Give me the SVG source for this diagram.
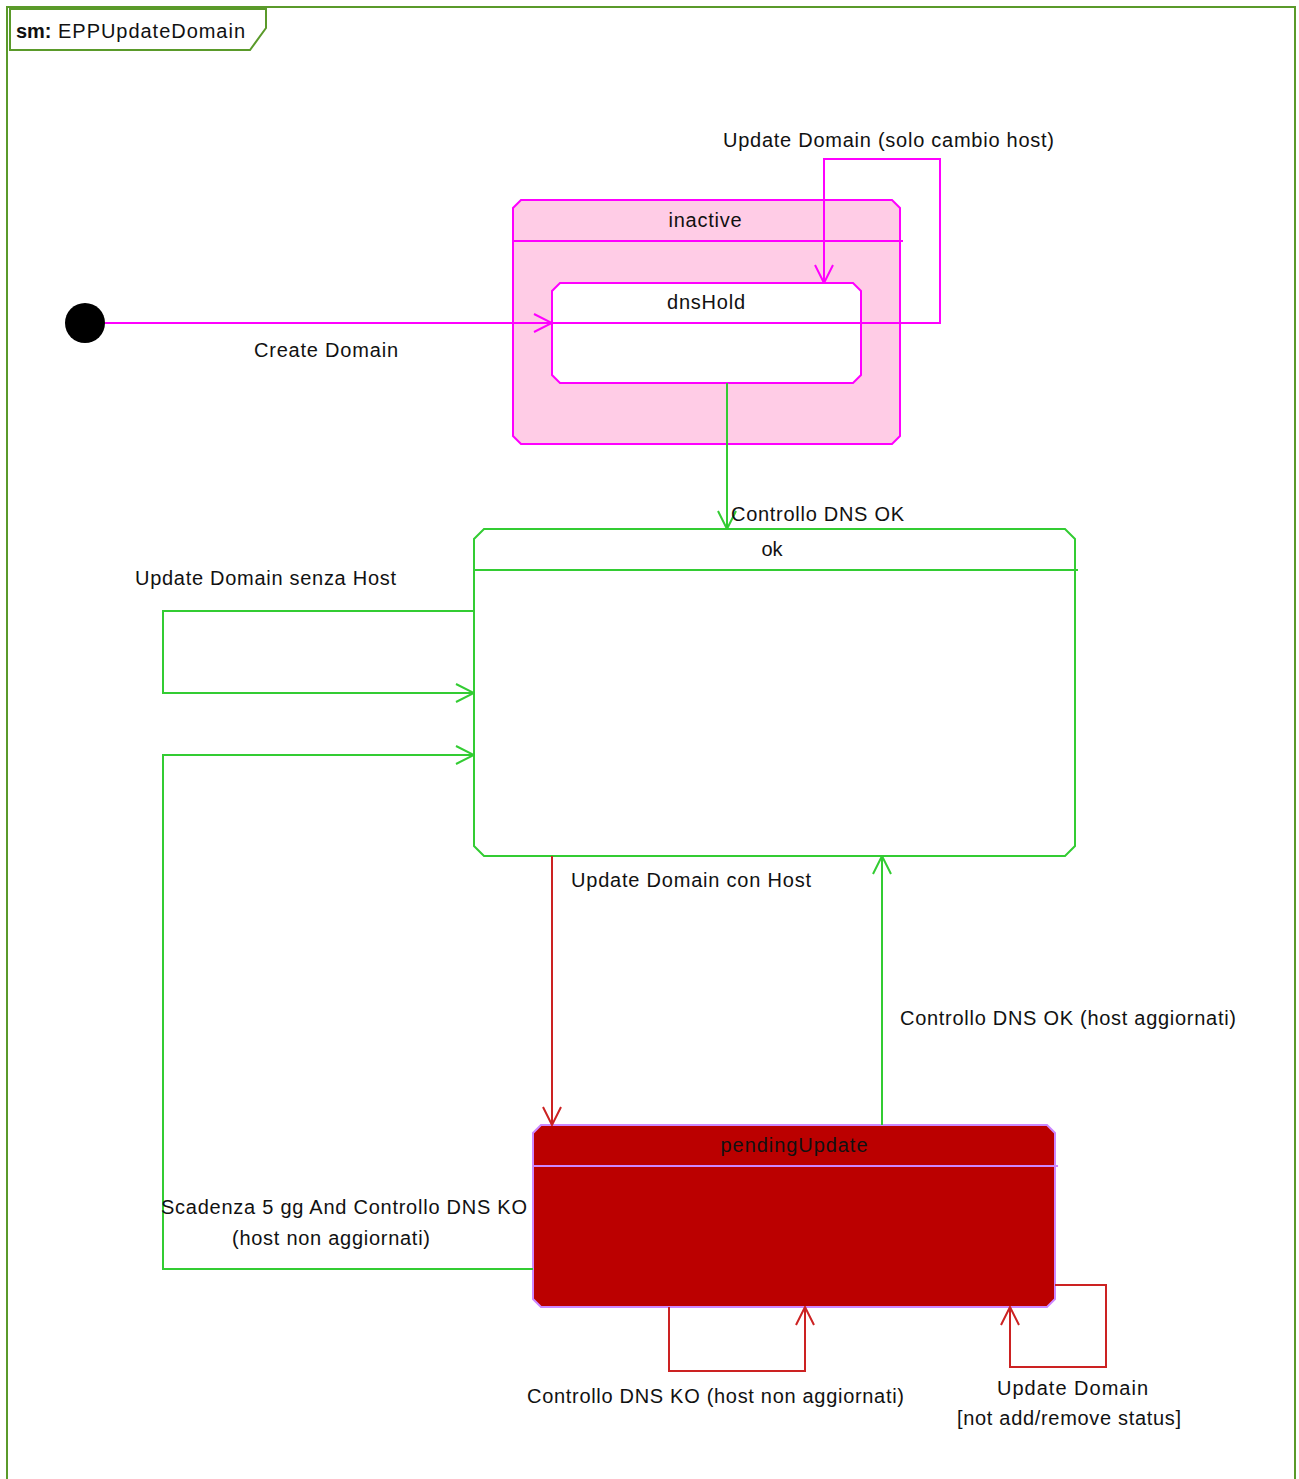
<svg xmlns="http://www.w3.org/2000/svg" width="1299" height="1479" viewBox="0 0 1299 1479">
<style>
text{font-family:"Liberation Sans",Arial,sans-serif;font-size:20px;fill:#111}
.mag{stroke:#FF00FF;stroke-width:2;fill:none}
.grn{stroke:#33CC33;stroke-width:2;fill:none}
.red{stroke:#CC2222;stroke-width:2;fill:none}
.mid{text-anchor:middle}
</style>
<defs>
<marker id="am" viewBox="0 0 20 20" refX="19" refY="10" markerWidth="20" markerHeight="20" markerUnits="userSpaceOnUse" orient="auto"><path d="M1,1 L19,10 L1,19" fill="none" stroke="#FF00FF" stroke-width="2"/></marker>
<marker id="ag" viewBox="0 0 20 20" refX="19" refY="10" markerWidth="20" markerHeight="20" markerUnits="userSpaceOnUse" orient="auto"><path d="M1,1 L19,10 L1,19" fill="none" stroke="#33CC33" stroke-width="2"/></marker>
<marker id="ar" viewBox="0 0 20 20" refX="19" refY="10" markerWidth="20" markerHeight="20" markerUnits="userSpaceOnUse" orient="auto"><path d="M1,1 L19,10 L1,19" fill="none" stroke="#CC2222" stroke-width="2"/></marker>
</defs>
<rect width="1299" height="1479" fill="#fff"/>
<g id="frame">
<rect x="7" y="7" width="1288" height="1490" fill="none" stroke="#5A9A2A" stroke-width="2"/>
<polygon points="10,9 266,9 266,28 250,50 10,50" fill="#fff" stroke="#5A9A2A" stroke-width="2"/>
<text x="16" y="38" textLength="229"><tspan font-weight="bold" letter-spacing="-1">sm:</tspan> EPPUpdateDomain</text>
</g>
<g id="initial"><circle cx="85" cy="323" r="20" fill="#000"/></g>
<g id="inactive">
<polygon points="521,200 892,200 900,208 900,436 892,444 521,444 513,436 513,208" fill="#FFCCE6" stroke="#FF00FF" stroke-width="2"/>
<line x1="513" y1="241" x2="903" y2="241" stroke="#FF00FF" stroke-width="2"/>
<text x="705" y="227" class="mid" textLength="73">inactive</text>
</g>
<g id="dnsHold">
<polygon points="560,283 853,283 861,291 861,375 853,383 560,383 552,375 552,291" fill="#fff" stroke="#FF00FF" stroke-width="2"/>
<text x="706" y="309" class="mid" textLength="78">dnsHold</text>
</g>
<g id="ok">
<polygon points="484,529 1065,529 1075,539 1075,846 1065,856 484,856 474,846 474,539" fill="#fff" stroke="#33CC33" stroke-width="2"/>
<line x1="474" y1="570" x2="1078" y2="570" stroke="#33CC33" stroke-width="2"/>
<text x="772" y="556" class="mid">ok</text>
</g>
<g id="pendingUpdate">
<polygon points="541,1125 1047,1125 1055,1133 1055,1299 1047,1307 541,1307 533,1299 533,1133" fill="#BB0000" stroke="#CC88FF" stroke-width="2"/>
<line x1="533" y1="1166" x2="1058" y2="1166" stroke="#CC88FF" stroke-width="2"/>
<text x="794" y="1152" class="mid" textLength="147">pendingUpdate</text>
</g>
<g id="connectors">
<path class="mag" d="M105,323 H552" marker-end="url(#am)"/>
<path class="mag" d="M552,323 H940 V159 H824 V283" marker-end="url(#am)"/>
<path class="grn" d="M727,383 V529" marker-end="url(#ag)"/>
<path class="grn" d="M474,611 H163 V693 H474" marker-end="url(#ag)"/>
<path class="grn" d="M533,1269 H163 V755 H474" marker-end="url(#ag)"/>
<path class="red" d="M552,856 V1125" marker-end="url(#ar)"/>
<path class="grn" d="M882,1125 V856" marker-end="url(#ag)"/>
<path class="red" d="M669,1307 V1371 H805 V1307" marker-end="url(#ar)"/>
<path class="red" d="M1055,1285 H1106 V1367 H1010 V1307" marker-end="url(#ar)"/>
</g>
<g id="labels">
<text x="723" y="147" textLength="331">Update Domain (solo cambio host)</text>
<text x="254" y="357" textLength="144">Create Domain</text>
<text x="731" y="521" textLength="173">Controllo DNS OK</text>
<text x="135" y="585" textLength="261">Update Domain senza Host</text>
<text x="571" y="887" textLength="240">Update Domain con Host</text>
<text x="900" y="1025" textLength="336">Controllo DNS OK (host aggiornati)</text>
<text x="161" y="1214" textLength="366">Scadenza 5 gg And Controllo DNS KO</text>
<text x="232" y="1245" textLength="198">(host non aggiornati)</text>
<text x="527" y="1403" textLength="377">Controllo DNS KO (host non aggiornati)</text>
<text x="997" y="1395" textLength="151">Update Domain</text>
<text x="957" y="1425" textLength="224">[not add/remove status]</text>
</g>
</svg>
